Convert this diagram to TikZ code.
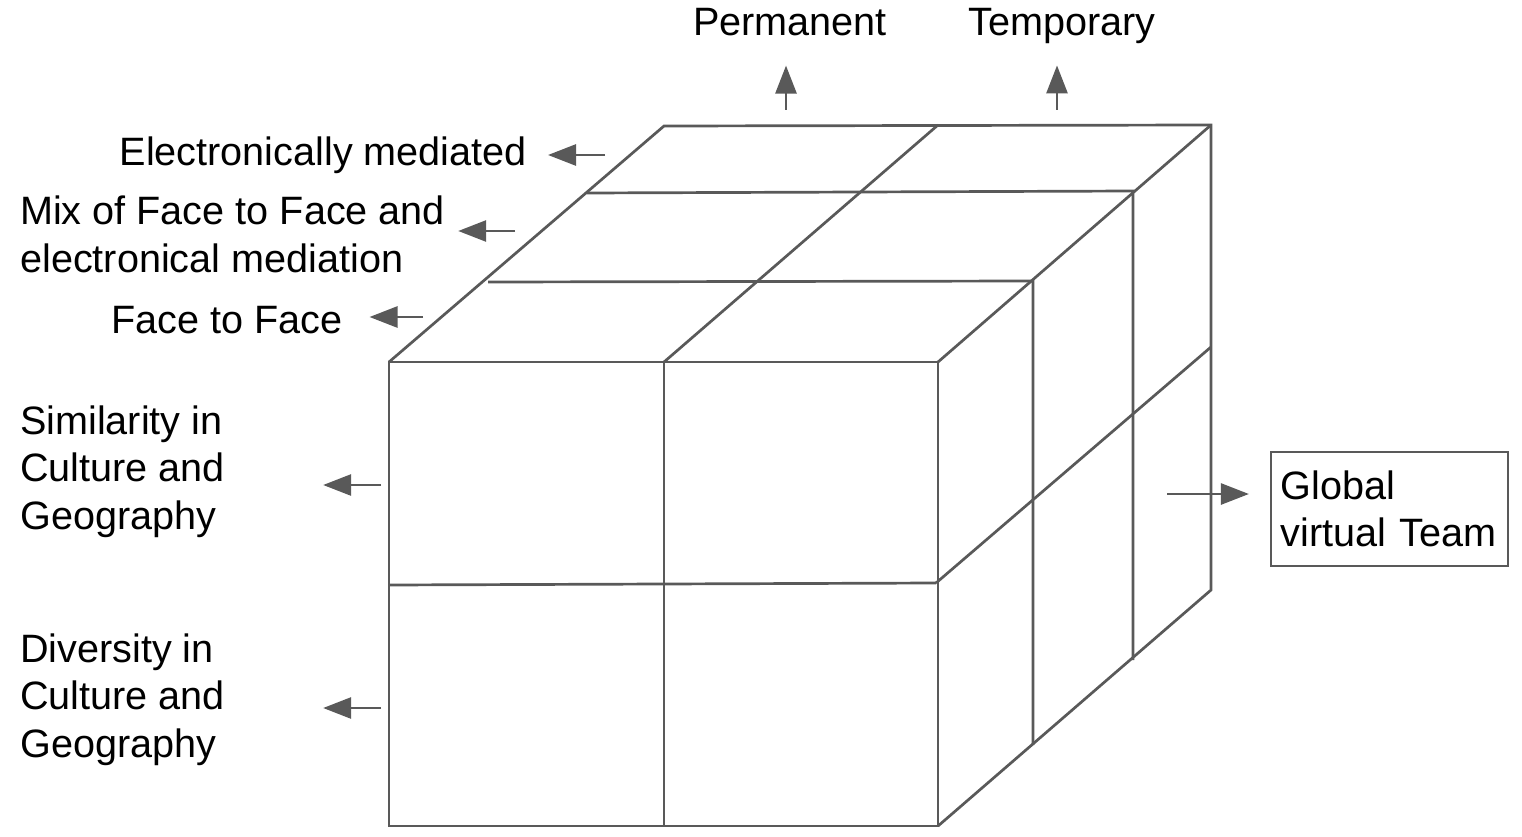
\documentclass[tikz,border=0pt]{standalone}
\usepackage{fontspec}
\setmainfont{Liberation Sans}
\usepackage{xcolor}
\usepackage{tikz}
\usetikzlibrary{arrows.meta}
\definecolor{edgegray}{HTML}{595959}

\tikzset{
  cubeline/.style={edgegray, line width=2.7pt},
  arr/.style={edgegray, line width=2.7pt, -{Triangle[length=28pt,width=21pt]}},
  lbl/.style={inner sep=0pt, font=\fontsize{39.6}{47.5}\selectfont, align=left},
}

\begin{document}
\begin{tikzpicture}[x=1pt,y=-1pt]
        \useasboundingbox (0,0) rectangle (1522,837);

        % Cube corners
        \coordinate (ftl) at (389,362);
        \coordinate (ftm) at (664,362);
        \coordinate (ftr) at (938,362);
        \coordinate (fml) at (389,585);
        \coordinate (fmr) at (936,583);
        \coordinate (fbl) at (389,826);
        \coordinate (fbm) at (664,826);
        \coordinate (fbr) at (938,826);
        \coordinate (btl) at (664,126);
        \coordinate (btm) at (938,125);
        \coordinate (btr) at (1211,125);
        \coordinate (bmr) at (1211,347);
        \coordinate (bbr) at (1211,590);
        \coordinate (r1l) at (488,282);
        \coordinate (r1r) at (1033,281);
        \coordinate (r1b) at (1033,745);
        \coordinate (r2l) at (587,193);
        \coordinate (r2r) at (1133,191);
        \coordinate (r2b) at (1133,660);

        % Cube
        \draw[cubeline] (ftl) rectangle (fbr);
        \draw[cubeline] (ftm) -- (fbm);
        \draw[cubeline] (fml) -- (fmr);
        \draw[cubeline] (ftl) -- (btl) -- (btr) -- (bbr) -- (fbr);
        \draw[cubeline] (ftm) -- (btm);
        \draw[cubeline] (ftr) -- (btr);
        \draw[cubeline] (fmr) -- (bmr);
        \draw[cubeline] (r1l) -- (r1r) -- (r1b);
        \draw[cubeline] (r2l) -- (r2r) -- (r2b);

        % Labels (base = last line)
        \node[lbl, anchor=base] (perm) at (790,36) {Permanent};
        \node[lbl, anchor=base] (temp) at (1062,36) {Temporary};
        \node[lbl, anchor=base east] (elec) at (527,166) {Electronically mediated};
        \node[lbl, anchor=base west] (mix) at (20,272) {Mix of Face to Face and\\electronical mediation};
        \node[lbl, anchor=base west] (f2f) at (111,333) {Face to Face};
        \node[lbl, anchor=base west] (simi) at (20,529) {Similarity in\\Culture and\\Geography};
        \node[lbl, anchor=base west] (dive) at (20,757) {Diversity in\\Culture and\\Geography};
        \node[lbl, draw=edgegray, line width=2.2pt, inner xsep=9.5pt, inner ysep=0pt,
              text width=218pt, minimum width=237pt, minimum height=114pt] (team) at (1389.5,509) {Global\\virtual Team};

        % Arrows
        \coordinate (permtail) at (786,110);
        \coordinate (temptail) at (1057,110);
        \coordinate (electail) at (605,155);
        \coordinate (mixtail) at (515,231);
        \coordinate (f2ftail) at (423,317);
        \coordinate (simitail) at (381,485);
        \coordinate (divetail) at (381,708);
        \coordinate (teamtail) at (1167,494);
        \draw[arr, shorten >=29pt] (permtail) -- (permtail |- perm.south);
        \draw[arr, shorten >=21pt] (temptail) -- (temptail |- temp.south);
        \draw[arr, shorten >=21pt] (electail) -- (electail -| elec.east);
        \draw[arr, shorten >=13pt] (mixtail) -- (mixtail -| mix.east);
        \draw[arr, shorten >=27pt] (f2ftail) -- (f2ftail -| f2f.east);
        \draw[arr, shorten >=98pt] (simitail) -- (simitail -| simi.east);
        \draw[arr, shorten >=98pt] (divetail) -- (divetail -| dive.east);
        \draw[arr, shorten >=21pt] (teamtail) -- (teamtail -| team.west);
    \end{tikzpicture}
\end{document}
